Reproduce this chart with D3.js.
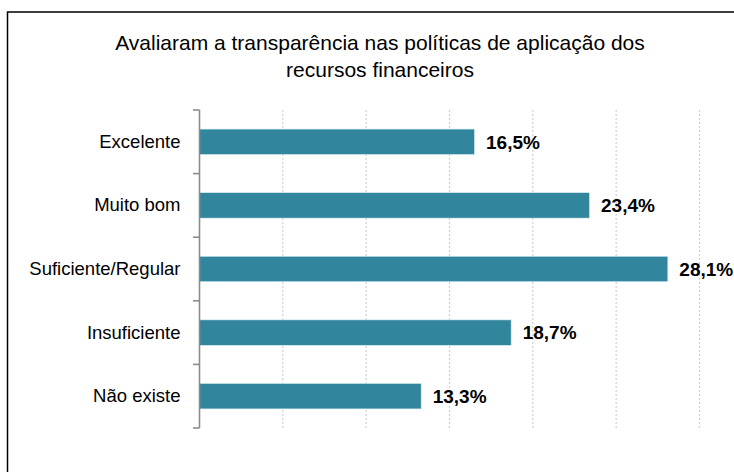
<!DOCTYPE html>
<html><head><meta charset="utf-8">
<script src="https://cdn.jsdelivr.net/npm/d3@7"></script>
<style>body{margin:0;background:#fff}svg{display:block}</style>
</head><body>
<script>
const categories = ["Excelente","Muito bom","Suficiente/Regular","Insuficiente","Não existe"];
const values = [16.5, 23.4, 28.1, 18.7, 13.3];
const valueLabels = ["16,5%","23,4%","28,1%","18,7%","13,3%"];
const gridTicks = [5,10,15,20,25,30,35];
const titleLines = ["Avaliaram a transparência nas políticas de aplicação dos","recursos financeiros"];

const W = 734, H = 472;
const svg = d3.select("body").append("svg").attr("width", W).attr("height", H);
const font = "'Liberation Sans', Arial, sans-serif";

// outer frame
svg.append("rect").attr("x", 7.5).attr("y", 12).attr("width", 760).attr("height", 500)
  .attr("fill", "none").attr("stroke", "#000").attr("stroke-width", 1.5);

// title
svg.append("g").selectAll("text").data(titleLines).join("text")
  .attr("x", 380).attr("y", (d,i) => 50 + i*27)
  .attr("text-anchor", "middle")
  .style("font-family", font).style("font-size", "21px").attr("fill", "#000")
  .text(d => d);

const x = d3.scaleLinear().domain([0, 30]).range([199.5, 699.5]);
const y = d3.scaleBand().domain(categories).range([110, 428]).paddingInner(0.6).paddingOuter(0.3);

// gridlines
svg.append("g").selectAll("line").data(gridTicks).join("line")
  .attr("x1", d => x(d)).attr("x2", d => x(d)).attr("y1", 110).attr("y2", 428)
  .attr("stroke", "#d0d0d0").attr("stroke-width", 1.2).attr("stroke-dasharray", "2,2");

// bars
svg.append("g").selectAll("rect").data(values).join("rect")
  .attr("x", x(0)).attr("y", (d,i) => y(categories[i]))
  .attr("width", d => x(d) - x(0)).attr("height", y.bandwidth())
  .attr("fill", "#31859c").attr("stroke", "#d6eef3").attr("stroke-width", 0.6);

// y axis
const yAxisScale = d3.scaleBand().domain(categories).range([110, 428]);
const axis = d3.axisLeft(yAxisScale).tickSize(0).tickPadding(19);
const ag = svg.append("g").attr("transform", "translate(199.5,0)").call(axis);
ag.select(".domain").remove();
ag.selectAll("text").style("font-family", font).style("font-size", "18.5px").attr("fill", "#000");
// axis line and tick marks at band boundaries
const bounds = categories.map(c => yAxisScale(c)).concat([428]);
svg.append("line").attr("x1", 199.5).attr("x2", 199.5).attr("y1", 110).attr("y2", 428)
  .attr("stroke", "#8c8c8c").attr("stroke-width", 1.6);
svg.append("g").selectAll("line").data(bounds).join("line")
  .attr("x1", 193).attr("x2", 199.5).attr("y1", d => d).attr("y2", d => d)
  .attr("stroke", "#8c8c8c").attr("stroke-width", 1.6);

// value labels
svg.append("g").selectAll("text").data(values).join("text")
  .attr("x", d => x(d) + 11.5).attr("y", (d,i) => y(categories[i]) + y.bandwidth()/2)
  .attr("dy", "0.36em")
  .style("font-family", font).style("font-size", "19px").style("font-weight", "bold").attr("fill", "#000")
  .text((d,i) => valueLabels[i]);
</script>
</body></html>
